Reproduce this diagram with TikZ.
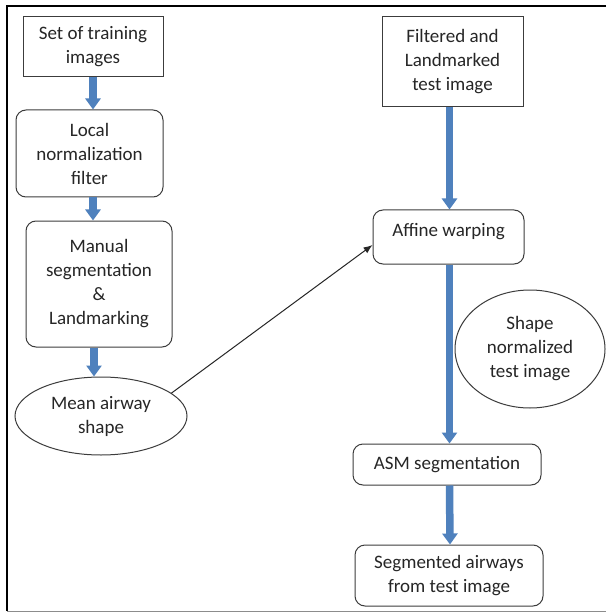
\documentclass[tikz,border=0pt]{standalone}
\usepackage{fontspec}
\setmainfont{Carlito}
\usetikzlibrary{arrows.meta,shapes.geometric,calc}
\definecolor{blk}{RGB}{79,129,189}
\definecolor{edge}{RGB}{60,60,60}
\begin{document}
\begin{tikzpicture}[x=1pt,y=-1pt,
  every node/.style={font=\fontsize{19}{24}\selectfont, text=black!85, align=center, inner sep=0pt},
  sqbox/.style={draw=edge, line width=1pt, rectangle},
  rbox/.style={draw=edge, line width=1pt, rectangle, rounded corners=10pt},
  ebox/.style={draw=edge, line width=1pt, ellipse},
  blockarrow/.style={draw=blk, line width=7.5pt, -{Triangle[width=15pt,length=11pt]}, shorten >=0pt},
  thinarrow/.style={draw=black!85, line width=1pt, -{Latex[length=9pt,width=7pt]}}]
\useasboundingbox (0,0) rectangle (606,612);
\fill[white] (0,0) rectangle (606,612);
% frame
\draw[line width=2pt] (606,6) -- (7,6) -- (7,611);
\draw[line width=1pt, black!45] (7,611) -- (606,611);
% left column
\node[sqbox, minimum width=140pt, minimum height=60pt] (b1) at (93,47) {Set of training\\images};
\node[rbox, minimum width=147pt, minimum height=87pt] (b2) at (89.5,153.5) {Local\\normalization\\filter};
\node[rbox, minimum width=146pt, minimum height=126pt] (b3) at (99,284) {\fontsize{19}{25.5}\selectfont Manual\\segmentation\\\&\\Landmarking};
\node[ebox, minimum width=172pt, minimum height=78pt] (e1) at (101,416) {\fontsize{19}{22.5}\selectfont Mean airway\\shape};
% right column
\node[sqbox, minimum width=141pt, minimum height=90pt] (r1) at (452.5,62) {\fontsize{19}{25.5}\selectfont Filtered and\\Landmarked\\test image};
\node[rbox, minimum width=151pt, minimum height=54pt, text height=13pt, text depth=15pt, align=left] (r2) at (448.5,237) {Affine warping};
\node[ebox, minimum width=150pt, minimum height=118pt] (e2) at (530,349) {Shape\\normalized\\test image};
\node[rbox, minimum width=188pt, minimum height=41pt] (r3) at (447,464.5) {ASM segmentation};
\node[rbox, minimum width=188pt, minimum height=61pt] (r4) at (449,575.5) {\fontsize{19}{21.5}\selectfont Segmented airways\\from test image};
% block arrows
\draw[blockarrow] (b1.south) -- (b1.south |- b2.north);
\draw[blockarrow] (b2.south -| b1.south) -- (b1.south |- b3.north);
\draw[blockarrow] ($(b3.south)+(-5,0)$) -- ($(e1.north)+(-7,0)$);
\draw[blockarrow] ($(r1.south)+(-3,0)$) -- ($(r2.north)+(1,0)$);
\draw[blockarrow] ($(r2.south)+(1,0)$) -- ($(r3.north)+(2.5,0)$);
\draw[blockarrow] ($(r3.south)+(2.5,0)$) -- ($(r4.north)+(1,0)$);
% thin arrow
\draw[thinarrow] (e1.18) -- ($(r2.west)+(0,8)$);
\end{tikzpicture}
\end{document}
